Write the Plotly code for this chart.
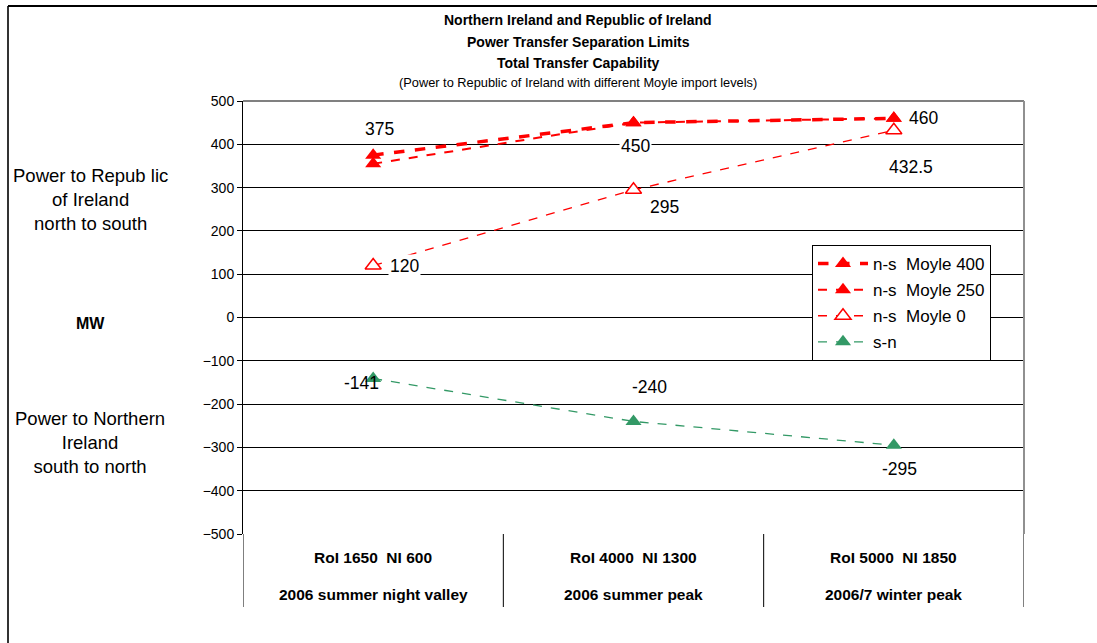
import plotly.graph_objects as go

# Daten
CATEGORIES = ["RoI 1650  NI 600", "RoI 4000  NI 1300", "RoI 5000  NI 1850"]
SEASONS = ["2006 summer night valley", "2006 summer peak", "2006/7 winter peak"]

MOYLE_400 = [375, 450, 460]
MOYLE_250 = [355, 450, 460]
MOYLE_0 = [120, 295, 432.5]
S_N = [-141, -240, -295]

TITLE_LINES = [
    "Northern Ireland and Republic of Ireland",
    "Power Transfer Separation Limits",
    "Total Transfer Capability",
]
SUBTITLE = "(Power to Republic of Ireland with different Moyle import levels)"

# Design
RED = "#FF0000"
GREEN = "#339966"
FONT = "Liberation Sans, Arial, sans-serif"
NARROW = "Liberation Sans Narrow, Arial Narrow, Liberation Sans, Arial"

W, H = 1097, 643
L, R, T, B = 243, 73, 101, 109
PW, PH = W - L - R, H - T - B


def px_x(px):
    return (px - L) / PW


def px_y(py):
    return (H - B - py) / PH


x_idx = list(range(len(CATEGORIES)))

fig = go.Figure()

series = [
    ("n-s  Moyle 400", MOYLE_400, dict(color=RED, width=3.5, dash="dash"), dict(symbol="triangle-up", size=14, color=RED)),
    ("n-s  Moyle 250", MOYLE_250, dict(color=RED, width=2, dash="dash"), dict(symbol="triangle-up", size=14, color=RED)),
    ("n-s  Moyle 0", MOYLE_0, dict(color=RED, width=1.3, dash="dash"),
     dict(symbol="triangle-up", size=14, color="white", line=dict(color=RED, width=1.5))),
    ("s-n", S_N, dict(color=GREEN, width=1.3, dash="dash"), dict(symbol="triangle-up", size=14, color=GREEN)),
]

for i, (name, vals, line, marker) in enumerate(series):
    fig.add_trace(go.Scatter(
        x=x_idx, y=vals, name=name, mode="lines+markers",
        line=line, marker=marker, legendgroup=f"g{i}",
    ))

# Datenbeschriftungen (Pixel-Versatz, Hintergrund)
label_style = {
    "MOYLE_400": [(6, -26, True), (2, 23, True), (30, 0, True)],
    "MOYLE_0": [(31, 0, True), (31, 17, True), (17, 37, True)],
    "S_N": [(-12, 4, False), (16, -34, True), (6, 24, True)],
}
for key, vals in [("MOYLE_400", MOYLE_400), ("MOYLE_0", MOYLE_0), ("S_N", S_N)]:
    for xi, v, (dx, dy, bg) in zip(x_idx, vals, label_style[key]):
        fig.add_annotation(
            x=xi, y=v, text=f"{v:g}", showarrow=False,
            xshift=dx, yshift=-dy,
            font=dict(family=FONT, size=17.5, color="black"),
            bgcolor="white" if bg else "rgba(0,0,0,0)",
        )

# Titel
for i, line in enumerate(TITLE_LINES):
    fig.add_annotation(
        x=px_x(578), y=px_y(20 + i * 21.5), xref="paper", yref="paper",
        xanchor="center", yanchor="middle",
        text=f"<b>{line}</b>", showarrow=False,
        font=dict(family=FONT, size=14, color="black"),
    )
fig.add_annotation(
    x=px_x(578), y=px_y(82), xref="paper", yref="paper",
    xanchor="center", yanchor="middle",
    text=SUBTITLE, showarrow=False,
    font=dict(family=FONT, size=12.8, color="black"),
)

# Achsenbeschriftung links
side_font = dict(family=FONT, size=18.5, color="black")
fig.add_annotation(
    x=px_x(90), y=px_y(199), xref="paper", yref="paper", showarrow=False,
    xanchor="center", yanchor="middle",
    text="Power to Repub lic<br>of Ireland<br>north to south", font=side_font,
)
fig.add_annotation(
    x=px_x(90), y=px_y(323), xref="paper", yref="paper", showarrow=False,
    xanchor="center", yanchor="middle",
    text="<b>MW</b>", font=dict(family=FONT, size=16, color="black"),
)
fig.add_annotation(
    x=px_x(90), y=px_y(442), xref="paper", yref="paper", showarrow=False,
    xanchor="center", yanchor="middle",
    text="Power to Northern<br>Ireland<br>south to north", font=side_font,
)

# Kategorien unter der Achse
cat_font = dict(family=NARROW, size=15.5, color="black")
for xi, cat, season in zip(x_idx, CATEGORIES, SEASONS):
    fig.add_annotation(x=xi, y=px_y(557), yref="paper", text=f"<b>{cat}</b>",
                       xanchor="center", yanchor="middle",
                       showarrow=False, font=cat_font)
    fig.add_annotation(x=xi, y=px_y(594), yref="paper", text=f"<b>{season}</b>",
                       xanchor="center", yanchor="middle",
                       showarrow=False, font=cat_font)

# Trennlinien unter der Achse
for xb in [-0.5, 0.5, 1.5, 2.5]:
    fig.add_shape(type="line", x0=xb, x1=xb, y0=0, y1=px_y(607),
                  xref="x", yref="paper", line=dict(color="black", width=1))

# Rahmen oben/rechts (grau)
fig.add_shape(type="line", x0=0, x1=1, y0=1, y1=1, xref="paper", yref="paper",
              line=dict(color="#808080", width=2))
fig.add_shape(type="line", x0=1, x1=1, y0=0, y1=1, xref="paper", yref="paper",
              line=dict(color="#909090", width=2))

# Aeusserer Rahmen
fig.add_shape(type="line", x0=px_x(8), x1=px_x(8), y0=px_y(6), y1=px_y(H + 5),
              xref="paper", yref="paper", line=dict(color="#333333", width=2))
fig.add_shape(type="line", x0=px_x(8), x1=px_x(W + 5), y0=px_y(6), y1=px_y(6),
              xref="paper", yref="paper", line=dict(color="black", width=2))

fig.update_layout(
    width=W, height=H,
    margin=dict(l=L, r=R, t=T, b=B),
    paper_bgcolor="white", plot_bgcolor="white",
    font=dict(family=FONT, color="black"),
    showlegend=True,
    legend=dict(
        x=px_x(812), y=px_y(245), xanchor="left", yanchor="top",
        bordercolor="black", borderwidth=1, bgcolor="white",
        font=dict(family=FONT, size=17, color="black"),
        tracegroupgap=1, itemwidth=50,
    ),
    xaxis=dict(
        range=[-0.5, 2.5], showticklabels=False, showgrid=False,
        zeroline=False, showline=False, ticks="",
    ),
    yaxis=dict(
        range=[-500, 500], dtick=100, tickmode="linear",
        showgrid=True, gridcolor="black", gridwidth=1,
        zeroline=False, showline=True, linecolor="black", linewidth=1,
        ticks="outside", ticklen=5, tickcolor="black",
        tickfont=dict(family=FONT, size=14, color="black"),
    ),
)

fig.write_html(
    "out.html",
    config={"displayModeBar": False},
    post_script="document.body.style.margin='0';",
)
